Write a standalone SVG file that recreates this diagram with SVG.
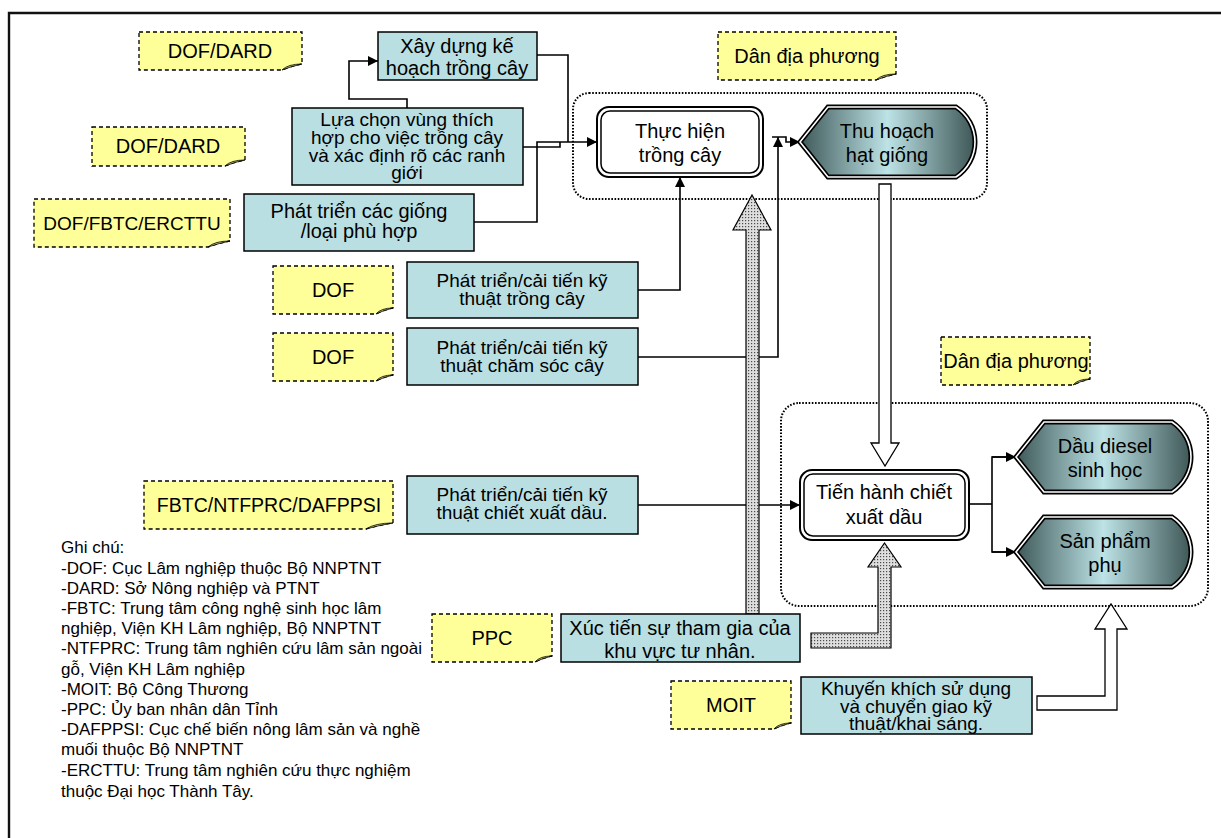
<svg xmlns="http://www.w3.org/2000/svg" width="1221" height="838" viewBox="0 0 1221 838">
  <style>
    text { font-family: "Liberation Sans", Arial, sans-serif; fill: #000; }
    .lbl { font-size: 20px; text-anchor: middle; }
    .tight { font-size: 19px; }
    .legend { font-size: 17px; }
    .note { fill: #FFFF99; stroke: #000; stroke-width: 1.3; stroke-dasharray: 4 3; }
    .fold { fill: #c9c97a; stroke: #000; stroke-width: 0.8; }
    .task { fill: #B9DFE2; stroke: #000; stroke-width: 1.5; }
    .proc-out { fill: #fff; stroke: #000; stroke-width: 2; }
    .proc-in { fill: none; stroke: #000; stroke-width: 1.5; }
    .term { fill: url(#termGrad); stroke: #000; stroke-width: 5; }
    .term-gap { fill: none; stroke: #fff; stroke-width: 1.6; }
    .zone { fill: none; stroke: #000; stroke-width: 2; stroke-dasharray: 1.6 1.6; }
    .wire { fill: none; stroke: #000; stroke-width: 1.6; }
    .hollow { fill: #fff; stroke: #000; stroke-width: 1.3; }
    .stipple { fill: url(#dots); stroke: #000; stroke-width: 1.2; }
  </style>
  <defs>
    <linearGradient id="termGrad" x1="0" y1="0" x2="1" y2="0">
      <stop offset="0" stop-color="#3e5858"/>
      <stop offset="0.5" stop-color="#bde3e6"/>
      <stop offset="1" stop-color="#3e5656"/>
    </linearGradient>
    <pattern id="dots" width="3" height="3" patternUnits="userSpaceOnUse">
      <rect width="3" height="3" fill="#dedede"/>
      <rect x="1" y="1" width="1.2" height="1.2" fill="#4a4a4a"/>
    </pattern>
    <marker id="ah" markerWidth="10" markerHeight="10" refX="10" refY="5" orient="auto" markerUnits="userSpaceOnUse">
      <path d="M0,0 L10,5 L0,10 Z" fill="#000"/>
    </marker>
    <path id="termShape" d="M0,35 L28,0 H156 C168,8 175,21 175,35 C175,49 168,62 156,70 H28 Z"/>
  </defs>

  <!-- page frame -->
  <path d="M9,845 V13 H1230" fill="none" stroke="#111" stroke-width="2.4"/>

  <!-- local-people zones -->
  <rect class="zone" x="573" y="93" width="414" height="106" rx="16"/>
  <rect class="zone" x="781" y="403" width="427" height="203" rx="18"/>

  <!-- connectors -->
  <g id="connectors">
    <path class="wire" d="M407,108 V99 H349 V61 H378" marker-end="url(#ah)"/>
    <path class="wire" d="M537,55 H568 V142"/>
    <path class="wire" d="M523,147 H560 V142"/>
    <path class="wire" d="M474,222 H537 V142 H597" marker-end="url(#ah)"/>
    <path class="wire" d="M638,290 H680 V177" marker-end="url(#ah)"/>
    <path class="wire" d="M638,357 H778 V137" marker-end="url(#ah)"/>
    <path class="wire" d="M772,137 H786 V142 H800" marker-end="url(#ah)"/>
    <path class="wire" d="M638,505 H800" marker-end="url(#ah)"/>
    <path class="wire" d="M969,504 H992"/>
    <path class="wire" d="M1016,457 H992 V552 H1016"/>
    <path class="wire" d="M992,457 H1016" marker-end="url(#ah)"/>
    <path class="wire" d="M992,552 H1016" marker-end="url(#ah)"/>
    <!-- block arrows -->
    <path class="hollow" d="M879,184 H891 V443 H899 L885,466 L871,443 H879 Z"/>
    <path class="stipple" d="M746,614 V230 H733 L752,195 L771,230 H759 V614 Z"/>
    <path class="stipple" d="M811,633 H878 V567 H868 L884.5,543 L901,567 H891 V648 H811 Z"/>
    <path class="hollow" d="M1037,696 H1105 V629 H1095 L1111,604 L1127,629 H1117 V710 H1037 Z"/>
  </g>

  <!-- responsible-agency notes -->
  <g id="note-dof-dard-1">
    <path class="note" d="M139,32 H302 V64 Q292,66 282,70 H139 Z"/>
    <path class="fold" d="M282,70 Q288,64 302,64 Q292,66 282,70 Z"/>
    <text class="lbl" x="220" y="58">DOF/DARD</text>
  </g>
  <g id="note-dof-dard-2">
    <path class="note" d="M92,127 H245 V160 Q235,162 225,166 H92 Z"/>
    <path class="fold" d="M225,166 Q231,160 245,160 Q235,162 225,166 Z"/>
    <text class="lbl" x="168" y="153">DOF/DARD</text>
  </g>
  <g id="note-dof-fbtc-ercttu">
    <path class="note" d="M34,199 H230 V241 Q220,243 208,247 H34 Z"/>
    <path class="fold" d="M208,247 Q215,241 230,241 Q220,243 208,247 Z"/>
    <text class="lbl" x="132" y="230" style="font-size:19px">DOF/FBTC/ERCTTU</text>
  </g>
  <g id="note-dof-1">
    <path class="note" d="M273,266 H393 V308 Q384,310 376,314 H273 Z"/>
    <path class="fold" d="M376,314 Q381,308 393,308 Q384,310 376,314 Z"/>
    <text class="lbl" x="333" y="297">DOF</text>
  </g>
  <g id="note-dof-2">
    <path class="note" d="M273,333 H393 V375 Q384,377 376,381 H273 Z"/>
    <path class="fold" d="M376,381 Q381,375 393,375 Q384,377 376,381 Z"/>
    <text class="lbl" x="333" y="364">DOF</text>
  </g>
  <g id="note-fbtc-ntfprc-dafppsi">
    <path class="note" d="M144,481 H393 V523 Q380,525 366,529 H144 Z"/>
    <path class="fold" d="M366,529 Q375,523 393,523 Q380,525 366,529 Z"/>
    <text class="lbl" x="269" y="512" style="font-size:19.5px">FBTC/NTFPRC/DAFPPSI</text>
  </g>
  <g id="note-ppc">
    <path class="note" d="M432,614 H552 V656 Q543,658 535,662 H432 Z"/>
    <path class="fold" d="M535,662 Q540,656 552,656 Q543,658 535,662 Z"/>
    <text class="lbl" x="492" y="645">PPC</text>
  </g>
  <g id="note-moit">
    <path class="note" d="M671,681 H791 V723 Q782,725 774,729 H671 Z"/>
    <path class="fold" d="M774,729 Q779,723 791,723 Q782,725 774,729 Z"/>
    <text class="lbl" x="731" y="712">MOIT</text>
  </g>
  <g id="note-local-1">
    <path class="note" d="M718,32 H896 V74 Q886,76 876,80 H718 Z"/>
    <path class="fold" d="M876,80 Q882,74 896,74 Q886,76 876,80 Z"/>
    <text class="lbl" x="807" y="63">Dân địa phương</text>
  </g>
  <g id="note-local-2">
    <path class="note" d="M941,337 H1090 V379 Q1081,381 1073,385 H941 Z"/>
    <path class="fold" d="M1073,385 Q1078,379 1090,379 Q1081,381 1073,385 Z"/>
    <text class="lbl" x="1016" y="368">Dân địa phương</text>
  </g>

  <!-- activity boxes -->
  <g id="task-plan">
    <rect class="task" x="378" y="32" width="159" height="48"/>
    <text class="lbl" x="457" y="53">Xây dựng kế</text>
    <text class="lbl" x="457" y="75">hoạch trồng cây</text>
  </g>
  <g id="task-select-area">
    <rect class="task" x="292" y="108" width="231" height="77"/>
    <text class="lbl tight" x="407" y="126">Lựa chọn vùng thích</text>
    <text class="lbl tight" x="407" y="144">hợp cho việc trồng cây</text>
    <text class="lbl tight" x="407" y="162">và xác định rõ  các ranh</text>
    <text class="lbl tight" x="407" y="179">giới</text>
  </g>
  <g id="task-varieties">
    <rect class="task" x="244" y="194" width="230" height="57"/>
    <text class="lbl" x="359" y="218">Phát triển các giống</text>
    <text class="lbl" x="359" y="238">/loại phù hợp</text>
  </g>
  <g id="task-planting-tech">
    <rect class="task" x="407" y="262" width="231" height="56"/>
    <text class="lbl tight" x="522" y="287">Phát triển/cải tiến kỹ</text>
    <text class="lbl tight" x="522" y="305">thuật trồng cây</text>
  </g>
  <g id="task-care-tech">
    <rect class="task" x="407" y="328" width="231" height="57"/>
    <text class="lbl tight" x="522" y="354">Phát triển/cải tiến kỹ</text>
    <text class="lbl tight" x="522" y="372">thuật chăm sóc cây</text>
  </g>
  <g id="task-extraction-tech">
    <rect class="task" x="407" y="476" width="231" height="58"/>
    <text class="lbl tight" x="522" y="501">Phát triển/cải tiến kỹ</text>
    <text class="lbl tight" x="522" y="519">thuật chiết xuất dầu.</text>
  </g>
  <g id="task-private-sector">
    <rect class="task" x="561" y="614" width="239" height="48"/>
    <text class="lbl" x="680" y="635">Xúc tiến sự tham gia của</text>
    <text class="lbl" x="680" y="658">khu vực tư nhân.</text>
  </g>
  <g id="task-promote-use">
    <rect class="task" x="801" y="677" width="231" height="57"/>
    <text class="lbl tight" x="916" y="695">Khuyến khích sử dụng</text>
    <text class="lbl tight" x="916" y="713">và chuyển giao kỹ</text>
    <text class="lbl tight" x="916" y="730">thuật/khai sáng.</text>
  </g>

  <!-- processes -->
  <g id="proc-planting">
    <rect class="proc-out" x="597" y="107" width="166" height="70" rx="12"/>
    <rect class="proc-in" x="601" y="111" width="158" height="62" rx="9"/>
    <text class="lbl" x="680" y="138">Thực hiện</text>
    <text class="lbl" x="680" y="162">trồng cây</text>
  </g>
  <g id="proc-extraction">
    <rect class="proc-out" x="800" y="470" width="169" height="70" rx="12"/>
    <rect class="proc-in" x="804" y="474" width="161" height="62" rx="9"/>
    <text class="lbl" x="884" y="499">Tiến hành chiết</text>
    <text class="lbl" x="884" y="524">xuất dầu</text>
  </g>

  <!-- outputs -->
  <g id="out-seed" transform="translate(800,107)">
    <use href="#termShape" class="term"/>
    <use href="#termShape" class="term-gap"/>
    <text class="lbl" x="87" y="31">Thu hoạch</text>
    <text class="lbl" x="87" y="55">hạt giống</text>
  </g>
  <g id="out-biodiesel" transform="translate(1016,422)">
    <use href="#termShape" class="term"/>
    <use href="#termShape" class="term-gap"/>
    <text class="lbl" x="89" y="31">Dầu diesel</text>
    <text class="lbl" x="89" y="55">sinh học</text>
  </g>
  <g id="out-byproduct" transform="translate(1016,517)">
    <use href="#termShape" class="term"/>
    <use href="#termShape" class="term-gap"/>
    <text class="lbl" x="89" y="31">Sản phẩm</text>
    <text class="lbl" x="89" y="55">phụ</text>
  </g>

  <!-- abbreviations -->
  <g id="legend">
    <text class="legend" x="61" y="553">Ghi chú:</text>
    <text class="legend" x="61" y="574">-DOF: Cục Lâm nghiệp thuộc Bộ NNPTNT</text>
    <text class="legend" x="61" y="594">-DARD: Sở Nông nghiệp và PTNT</text>
    <text class="legend" x="61" y="614">-FBTC: Trung tâm công nghệ sinh học lâm</text>
    <text class="legend" x="61" y="634">nghiệp, Viện KH Lâm nghiệp, Bộ NNPTNT</text>
    <text class="legend" x="61" y="654">-NTFPRC: Trung tâm nghiên cứu lâm sản ngoài</text>
    <text class="legend" x="61" y="675">gỗ, Viện KH Lâm nghiệp</text>
    <text class="legend" x="61" y="695">-MOIT: Bộ Công Thương</text>
    <text class="legend" x="61" y="715">-PPC: Ủy ban nhân dân Tỉnh</text>
    <text class="legend" x="61" y="735">-DAFPPSI: Cục chế biến nông lâm sản và nghề</text>
    <text class="legend" x="61" y="755">muối thuộc Bộ NNPTNT</text>
    <text class="legend" x="61" y="776">-ERCTTU: Trung tâm nghiên cứu thực nghiệm</text>
    <text class="legend" x="61" y="797">thuộc Đại học Thành Tây.</text>
  </g>
</svg>
